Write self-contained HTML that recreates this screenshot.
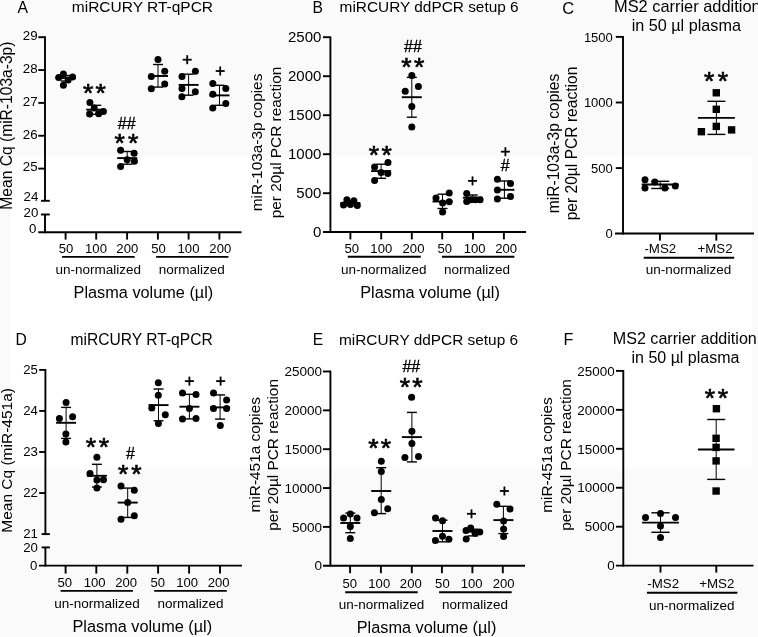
<!DOCTYPE html>
<html><head><meta charset="utf-8"><title>Figure</title>
<style>
html,body{margin:0;padding:0;background:#fff;overflow:hidden;}
svg{display:block;font-family:"Liberation Sans", sans-serif;fill:#000;filter:grayscale(1);}
.ast{font-weight:normal;stroke:#000;stroke-width:0.7px;}
.hs{stroke:#000;stroke-width:0.35px;}
</style></head>
<body>
<svg width="758" height="637" viewBox="0 0 758 637">
<rect x="0" y="0" width="758" height="637" fill="#fafafa"/>
<rect x="10.5" y="156.5" width="741.5" height="312.3" fill="#ffffff"/>
<text x="17.60" y="12.60" font-size="15.8" text-anchor="start" >A</text>
<text x="71.80" y="11.90" font-size="15.5" text-anchor="start" >miRCURY RT-qPCR</text>
<text transform="translate(11.90,125.60) rotate(-90)" font-size="15.6" text-anchor="middle">Mean Cq (miR-103a-3p)</text>
<line x1="45.00" y1="36.30" x2="45.00" y2="200.80" stroke="#000" stroke-width="1.9"/>
<line x1="45.00" y1="214.50" x2="45.00" y2="233.20" stroke="#000" stroke-width="1.9"/>
<line x1="38.30" y1="37.20" x2="45.00" y2="37.20" stroke="#000" stroke-width="1.9"/>
<text x="37.60" y="40.00" font-size="13.3" text-anchor="end" >29</text>
<line x1="38.30" y1="70.05" x2="45.00" y2="70.05" stroke="#000" stroke-width="1.9"/>
<text x="37.60" y="72.85" font-size="13.3" text-anchor="end" >28</text>
<line x1="38.30" y1="102.90" x2="45.00" y2="102.90" stroke="#000" stroke-width="1.9"/>
<text x="37.60" y="105.70" font-size="13.3" text-anchor="end" >27</text>
<line x1="38.30" y1="135.75" x2="45.00" y2="135.75" stroke="#000" stroke-width="1.9"/>
<text x="37.60" y="138.55" font-size="13.3" text-anchor="end" >26</text>
<line x1="38.30" y1="168.60" x2="45.00" y2="168.60" stroke="#000" stroke-width="1.9"/>
<text x="37.60" y="171.40" font-size="13.3" text-anchor="end" >25</text>
<line x1="41.00" y1="200.80" x2="49.80" y2="200.80" stroke="#000" stroke-width="1.9"/>
<text x="38.30" y="201.00" font-size="13.3" text-anchor="end" >24</text>
<line x1="41.00" y1="214.50" x2="49.80" y2="214.50" stroke="#000" stroke-width="1.9"/>
<text x="38.30" y="216.80" font-size="13.3" text-anchor="end" >20</text>
<line x1="38.30" y1="232.30" x2="241.50" y2="232.30" stroke="#000" stroke-width="1.9"/>
<text x="36.40" y="233.40" font-size="13.3" text-anchor="end" >0</text>
<line x1="65.60" y1="232.30" x2="65.60" y2="239.60" stroke="#000" stroke-width="1.9"/>
<text x="66.10" y="253.00" font-size="13.1" text-anchor="middle" >50</text>
<line x1="96.20" y1="232.30" x2="96.20" y2="239.60" stroke="#000" stroke-width="1.9"/>
<text x="96.00" y="253.00" font-size="13.1" text-anchor="middle" >100</text>
<line x1="127.10" y1="232.30" x2="127.10" y2="239.60" stroke="#000" stroke-width="1.9"/>
<text x="127.30" y="253.00" font-size="13.1" text-anchor="middle" >200</text>
<line x1="157.90" y1="232.30" x2="157.90" y2="239.60" stroke="#000" stroke-width="1.9"/>
<text x="158.60" y="253.00" font-size="13.1" text-anchor="middle" >50</text>
<line x1="188.60" y1="232.30" x2="188.60" y2="239.60" stroke="#000" stroke-width="1.9"/>
<text x="188.50" y="253.00" font-size="13.1" text-anchor="middle" >100</text>
<line x1="219.40" y1="232.30" x2="219.40" y2="239.60" stroke="#000" stroke-width="1.9"/>
<text x="220.30" y="253.00" font-size="13.1" text-anchor="middle" >200</text>
<line x1="62.10" y1="256.90" x2="134.70" y2="256.90" stroke="#000" stroke-width="1.9"/>
<line x1="156.10" y1="256.90" x2="228.40" y2="256.90" stroke="#000" stroke-width="1.9"/>
<text x="98.20" y="274.20" font-size="13.5" text-anchor="middle" >un-normalized</text>
<text x="191.80" y="274.20" font-size="13.5" text-anchor="middle" >normalized</text>
<text x="143.40" y="298.00" font-size="16.3" text-anchor="middle" >Plasma volume (µl)</text>
<line x1="65.60" y1="75.50" x2="65.60" y2="81.00" stroke="#000" stroke-width="1.0"/>
<line x1="60.60" y1="75.50" x2="70.60" y2="75.50" stroke="#000" stroke-width="1.4"/>
<line x1="60.60" y1="81.00" x2="70.60" y2="81.00" stroke="#000" stroke-width="1.4"/>
<line x1="55.60" y1="78.00" x2="75.60" y2="78.00" stroke="#000" stroke-width="1.9"/>
<circle cx="63.40" cy="73.90" r="3.5"/>
<circle cx="58.70" cy="77.50" r="3.5"/>
<circle cx="72.60" cy="77.00" r="3.5"/>
<circle cx="68.10" cy="80.10" r="3.5"/>
<circle cx="63.40" cy="85.30" r="3.5"/>
<line x1="96.20" y1="105.30" x2="96.20" y2="114.30" stroke="#000" stroke-width="1.0"/>
<line x1="91.20" y1="105.30" x2="101.20" y2="105.30" stroke="#000" stroke-width="1.4"/>
<line x1="91.20" y1="114.30" x2="101.20" y2="114.30" stroke="#000" stroke-width="1.4"/>
<line x1="86.20" y1="109.70" x2="106.20" y2="109.70" stroke="#000" stroke-width="1.9"/>
<circle cx="89.90" cy="102.40" r="3.5"/>
<circle cx="94.20" cy="107.90" r="3.5"/>
<circle cx="89.60" cy="114.00" r="3.5"/>
<circle cx="98.70" cy="113.70" r="3.5"/>
<circle cx="103.40" cy="111.50" r="3.5"/>
<text x="88.10" y="102.21" font-size="26.5" text-anchor="middle" class="ast">*</text>
<text x="100.60" y="102.21" font-size="26.5" text-anchor="middle" class="ast">*</text>
<line x1="127.20" y1="151.50" x2="127.20" y2="164.20" stroke="#000" stroke-width="1.0"/>
<line x1="122.20" y1="151.50" x2="132.20" y2="151.50" stroke="#000" stroke-width="1.4"/>
<line x1="122.20" y1="164.20" x2="132.20" y2="164.20" stroke="#000" stroke-width="1.4"/>
<line x1="117.20" y1="158.10" x2="137.20" y2="158.10" stroke="#000" stroke-width="1.9"/>
<circle cx="120.60" cy="150.20" r="3.5"/>
<circle cx="134.10" cy="153.20" r="3.5"/>
<circle cx="127.20" cy="159.80" r="3.5"/>
<circle cx="134.40" cy="161.20" r="3.5"/>
<circle cx="120.60" cy="166.60" r="3.5"/>
<text x="126.75" y="128.80" font-size="16" text-anchor="middle" class="hs">##</text>
<text x="119.70" y="151.72" font-size="26.5" text-anchor="middle" class="ast">*</text>
<text x="133.10" y="151.72" font-size="26.5" text-anchor="middle" class="ast">*</text>
<line x1="158.00" y1="64.50" x2="158.00" y2="87.10" stroke="#000" stroke-width="1.0"/>
<line x1="153.00" y1="64.50" x2="163.00" y2="64.50" stroke="#000" stroke-width="1.4"/>
<line x1="153.00" y1="87.10" x2="163.00" y2="87.10" stroke="#000" stroke-width="1.4"/>
<line x1="148.00" y1="76.00" x2="168.00" y2="76.00" stroke="#000" stroke-width="1.9"/>
<circle cx="158.00" cy="59.50" r="3.5"/>
<circle cx="164.70" cy="71.20" r="3.5"/>
<circle cx="151.30" cy="76.50" r="3.5"/>
<circle cx="164.70" cy="83.90" r="3.5"/>
<circle cx="151.30" cy="88.70" r="3.5"/>
<line x1="188.60" y1="74.20" x2="188.60" y2="95.20" stroke="#000" stroke-width="1.0"/>
<line x1="183.60" y1="74.20" x2="193.60" y2="74.20" stroke="#000" stroke-width="1.4"/>
<line x1="183.60" y1="95.20" x2="193.60" y2="95.20" stroke="#000" stroke-width="1.4"/>
<line x1="178.60" y1="84.90" x2="198.60" y2="84.90" stroke="#000" stroke-width="1.9"/>
<circle cx="195.40" cy="71.20" r="3.5"/>
<circle cx="182.00" cy="76.40" r="3.5"/>
<circle cx="182.00" cy="88.40" r="3.5"/>
<circle cx="195.30" cy="91.80" r="3.5"/>
<circle cx="181.90" cy="96.80" r="3.5"/>
<line x1="182.70" y1="59.70" x2="191.70" y2="59.70" stroke="#000" stroke-width="1.8"/>
<line x1="187.20" y1="55.20" x2="187.20" y2="64.20" stroke="#000" stroke-width="1.8"/>
<line x1="219.50" y1="85.30" x2="219.50" y2="105.30" stroke="#000" stroke-width="1.0"/>
<line x1="214.50" y1="85.30" x2="224.50" y2="85.30" stroke="#000" stroke-width="1.4"/>
<line x1="214.50" y1="105.30" x2="224.50" y2="105.30" stroke="#000" stroke-width="1.4"/>
<line x1="209.50" y1="95.40" x2="229.50" y2="95.40" stroke="#000" stroke-width="1.9"/>
<circle cx="212.80" cy="83.60" r="3.5"/>
<circle cx="225.80" cy="88.60" r="3.5"/>
<circle cx="212.80" cy="94.20" r="3.5"/>
<circle cx="225.80" cy="103.50" r="3.5"/>
<circle cx="212.80" cy="107.90" r="3.5"/>
<line x1="215.70" y1="71.00" x2="224.70" y2="71.00" stroke="#000" stroke-width="1.8"/>
<line x1="220.20" y1="66.50" x2="220.20" y2="75.50" stroke="#000" stroke-width="1.8"/>
<text x="312.60" y="12.80" font-size="15.6" text-anchor="start" >B</text>
<text x="339.60" y="12.00" font-size="15.4" text-anchor="start" >miRCURY ddPCR setup 6</text>
<text transform="translate(262.40,142.50) rotate(-90)" font-size="15.4" text-anchor="middle">miR-103a-3p copies</text>
<text transform="translate(281.00,142.50) rotate(-90)" font-size="15.4" text-anchor="middle">per 20µl PCR reaction</text>
<line x1="330.40" y1="36.50" x2="330.40" y2="233.00" stroke="#000" stroke-width="1.9"/>
<line x1="323.00" y1="37.20" x2="330.40" y2="37.20" stroke="#000" stroke-width="1.9"/>
<text x="321.40" y="42.10" font-size="15.0" text-anchor="end" >2500</text>
<line x1="323.00" y1="76.20" x2="330.40" y2="76.20" stroke="#000" stroke-width="1.9"/>
<text x="321.40" y="81.10" font-size="15.0" text-anchor="end" >2000</text>
<line x1="323.00" y1="115.20" x2="330.40" y2="115.20" stroke="#000" stroke-width="1.9"/>
<text x="321.40" y="120.10" font-size="15.0" text-anchor="end" >1500</text>
<line x1="323.00" y1="154.20" x2="330.40" y2="154.20" stroke="#000" stroke-width="1.9"/>
<text x="321.40" y="159.10" font-size="15.0" text-anchor="end" >1000</text>
<line x1="323.00" y1="193.20" x2="330.40" y2="193.20" stroke="#000" stroke-width="1.9"/>
<text x="321.40" y="198.10" font-size="15.0" text-anchor="end" >500</text>
<line x1="323.00" y1="232.00" x2="526.00" y2="232.00" stroke="#000" stroke-width="1.9"/>
<text x="321.40" y="236.90" font-size="15.0" text-anchor="end" >0</text>
<line x1="350.40" y1="232.00" x2="350.40" y2="239.40" stroke="#000" stroke-width="1.9"/>
<text x="351.80" y="253.20" font-size="13.1" text-anchor="middle" >50</text>
<line x1="381.20" y1="232.00" x2="381.20" y2="239.40" stroke="#000" stroke-width="1.9"/>
<text x="381.30" y="253.20" font-size="13.1" text-anchor="middle" >100</text>
<line x1="411.80" y1="232.00" x2="411.80" y2="239.40" stroke="#000" stroke-width="1.9"/>
<text x="413.50" y="253.20" font-size="13.1" text-anchor="middle" >200</text>
<line x1="442.20" y1="232.00" x2="442.20" y2="239.40" stroke="#000" stroke-width="1.9"/>
<text x="444.80" y="253.20" font-size="13.1" text-anchor="middle" >50</text>
<line x1="473.00" y1="232.00" x2="473.00" y2="239.40" stroke="#000" stroke-width="1.9"/>
<text x="474.70" y="253.20" font-size="13.1" text-anchor="middle" >100</text>
<line x1="503.90" y1="232.00" x2="503.90" y2="239.40" stroke="#000" stroke-width="1.9"/>
<text x="506.20" y="253.20" font-size="13.1" text-anchor="middle" >200</text>
<line x1="347.80" y1="256.70" x2="420.80" y2="256.70" stroke="#000" stroke-width="1.9"/>
<line x1="441.90" y1="256.70" x2="514.40" y2="256.70" stroke="#000" stroke-width="1.9"/>
<text x="383.80" y="274.10" font-size="13.5" text-anchor="middle" >un-normalized</text>
<text x="477.00" y="274.10" font-size="13.5" text-anchor="middle" >normalized</text>
<text x="430.10" y="297.80" font-size="16.3" text-anchor="middle" >Plasma volume (µl)</text>
<line x1="350.40" y1="200.50" x2="350.40" y2="205.50" stroke="#000" stroke-width="1.0"/>
<line x1="345.40" y1="200.50" x2="355.40" y2="200.50" stroke="#000" stroke-width="1.4"/>
<line x1="345.40" y1="205.50" x2="355.40" y2="205.50" stroke="#000" stroke-width="1.4"/>
<line x1="340.40" y1="203.00" x2="360.40" y2="203.00" stroke="#000" stroke-width="1.9"/>
<circle cx="346.90" cy="199.80" r="3.5"/>
<circle cx="353.90" cy="200.70" r="3.5"/>
<circle cx="343.50" cy="205.10" r="3.5"/>
<circle cx="350.40" cy="204.50" r="3.5"/>
<circle cx="357.30" cy="205.40" r="3.5"/>
<line x1="381.10" y1="164.20" x2="381.10" y2="178.30" stroke="#000" stroke-width="1.0"/>
<line x1="376.10" y1="164.20" x2="386.10" y2="164.20" stroke="#000" stroke-width="1.4"/>
<line x1="376.10" y1="178.30" x2="386.10" y2="178.30" stroke="#000" stroke-width="1.4"/>
<line x1="371.10" y1="171.10" x2="391.10" y2="171.10" stroke="#000" stroke-width="1.9"/>
<circle cx="388.00" cy="162.50" r="3.5"/>
<circle cx="374.60" cy="166.90" r="3.5"/>
<circle cx="381.10" cy="172.50" r="3.5"/>
<circle cx="387.80" cy="173.60" r="3.5"/>
<circle cx="374.60" cy="180.60" r="3.5"/>
<text x="374.00" y="163.61" font-size="26.5" text-anchor="middle" class="ast">*</text>
<text x="386.70" y="163.61" font-size="26.5" text-anchor="middle" class="ast">*</text>
<line x1="411.80" y1="77.40" x2="411.80" y2="117.20" stroke="#000" stroke-width="1.0"/>
<line x1="406.80" y1="77.40" x2="416.80" y2="77.40" stroke="#000" stroke-width="1.4"/>
<line x1="406.80" y1="117.20" x2="416.80" y2="117.20" stroke="#000" stroke-width="1.4"/>
<line x1="401.80" y1="97.20" x2="421.80" y2="97.20" stroke="#000" stroke-width="1.9"/>
<circle cx="411.80" cy="75.40" r="3.5"/>
<circle cx="418.40" cy="86.40" r="3.5"/>
<circle cx="405.20" cy="91.20" r="3.5"/>
<circle cx="411.80" cy="106.50" r="3.5"/>
<circle cx="411.80" cy="127.10" r="3.5"/>
<text x="413.00" y="51.60" font-size="16" text-anchor="middle" class="hs">##</text>
<text x="406.50" y="76.06" font-size="26.5" text-anchor="middle" class="ast">*</text>
<text x="419.20" y="76.06" font-size="26.5" text-anchor="middle" class="ast">*</text>
<line x1="442.50" y1="194.20" x2="442.50" y2="208.50" stroke="#000" stroke-width="1.0"/>
<line x1="437.50" y1="194.20" x2="447.50" y2="194.20" stroke="#000" stroke-width="1.4"/>
<line x1="437.50" y1="208.50" x2="447.50" y2="208.50" stroke="#000" stroke-width="1.4"/>
<line x1="432.50" y1="201.50" x2="452.50" y2="201.50" stroke="#000" stroke-width="1.9"/>
<circle cx="449.20" cy="193.00" r="3.5"/>
<circle cx="436.00" cy="197.90" r="3.5"/>
<circle cx="449.20" cy="201.80" r="3.5"/>
<circle cx="442.60" cy="203.10" r="3.5"/>
<circle cx="442.60" cy="211.90" r="3.5"/>
<line x1="472.80" y1="195.00" x2="472.80" y2="200.50" stroke="#000" stroke-width="1.0"/>
<line x1="467.80" y1="195.00" x2="477.80" y2="195.00" stroke="#000" stroke-width="1.4"/>
<line x1="467.80" y1="200.50" x2="477.80" y2="200.50" stroke="#000" stroke-width="1.4"/>
<line x1="462.80" y1="197.70" x2="482.80" y2="197.70" stroke="#000" stroke-width="1.9"/>
<circle cx="466.70" cy="193.60" r="3.5"/>
<circle cx="471.30" cy="199.70" r="3.5"/>
<circle cx="475.50" cy="199.70" r="3.5"/>
<circle cx="480.10" cy="199.70" r="3.5"/>
<circle cx="466.70" cy="201.40" r="3.5"/>
<line x1="468.00" y1="180.90" x2="477.00" y2="180.90" stroke="#000" stroke-width="1.8"/>
<line x1="472.50" y1="176.40" x2="472.50" y2="185.40" stroke="#000" stroke-width="1.8"/>
<line x1="504.40" y1="181.00" x2="504.40" y2="198.20" stroke="#000" stroke-width="1.0"/>
<line x1="499.40" y1="181.00" x2="509.40" y2="181.00" stroke="#000" stroke-width="1.4"/>
<line x1="499.40" y1="198.20" x2="509.40" y2="198.20" stroke="#000" stroke-width="1.4"/>
<line x1="494.40" y1="189.80" x2="514.40" y2="189.80" stroke="#000" stroke-width="1.9"/>
<circle cx="497.40" cy="179.30" r="3.5"/>
<circle cx="510.50" cy="183.40" r="3.5"/>
<circle cx="497.40" cy="190.00" r="3.5"/>
<circle cx="510.50" cy="196.60" r="3.5"/>
<circle cx="497.40" cy="199.00" r="3.5"/>
<line x1="500.90" y1="151.70" x2="509.90" y2="151.70" stroke="#000" stroke-width="1.8"/>
<line x1="505.40" y1="147.20" x2="505.40" y2="156.20" stroke="#000" stroke-width="1.8"/>
<text x="505.25" y="170.60" font-size="16" text-anchor="middle" class="hs">#</text>
<text x="562.30" y="14.40" font-size="16.5" text-anchor="start" >C</text>
<text x="614.00" y="11.80" font-size="16.4" text-anchor="start" >MS2 carrier addition</text>
<text x="631.70" y="30.80" font-size="16.2" text-anchor="start" >in 50 µl plasma</text>
<text transform="translate(558.50,143.50) rotate(-90)" font-size="15.6" text-anchor="middle">miR-103a-3p copies</text>
<text transform="translate(577.10,143.50) rotate(-90)" font-size="15.6" text-anchor="middle">per 20µl PCR reaction</text>
<line x1="623.00" y1="36.00" x2="623.00" y2="234.40" stroke="#000" stroke-width="1.9"/>
<line x1="615.80" y1="36.90" x2="623.00" y2="36.90" stroke="#000" stroke-width="1.9"/>
<text x="612.80" y="41.50" font-size="13.0" text-anchor="end" >1500</text>
<line x1="615.80" y1="102.50" x2="623.00" y2="102.50" stroke="#000" stroke-width="1.9"/>
<text x="612.80" y="107.10" font-size="13.0" text-anchor="end" >1000</text>
<line x1="615.80" y1="168.10" x2="623.00" y2="168.10" stroke="#000" stroke-width="1.9"/>
<text x="612.80" y="172.70" font-size="13.0" text-anchor="end" >500</text>
<line x1="615.00" y1="233.50" x2="754.00" y2="233.50" stroke="#000" stroke-width="1.9"/>
<text x="612.80" y="238.10" font-size="13.0" text-anchor="end" >0</text>
<line x1="659.90" y1="233.50" x2="659.90" y2="240.60" stroke="#000" stroke-width="1.9"/>
<line x1="716.30" y1="233.50" x2="716.30" y2="240.60" stroke="#000" stroke-width="1.9"/>
<text x="660.30" y="252.80" font-size="13.3" text-anchor="middle" >-MS2</text>
<text x="715.00" y="252.80" font-size="13.3" text-anchor="middle" >+MS2</text>
<line x1="643.70" y1="257.80" x2="734.20" y2="257.80" stroke="#000" stroke-width="1.9"/>
<text x="688.60" y="273.90" font-size="13.5" text-anchor="middle" >un-normalized</text>
<line x1="660.20" y1="181.30" x2="660.20" y2="188.50" stroke="#000" stroke-width="1.0"/>
<line x1="651.20" y1="181.30" x2="669.20" y2="181.30" stroke="#000" stroke-width="1.4"/>
<line x1="651.20" y1="188.50" x2="669.20" y2="188.50" stroke="#000" stroke-width="1.4"/>
<line x1="641.70" y1="184.50" x2="678.70" y2="184.50" stroke="#000" stroke-width="1.9"/>
<circle cx="645.00" cy="179.80" r="3.5"/>
<circle cx="654.80" cy="181.90" r="3.5"/>
<circle cx="645.00" cy="187.90" r="3.5"/>
<circle cx="664.90" cy="187.90" r="3.5"/>
<circle cx="675.30" cy="186.10" r="3.5"/>
<line x1="716.40" y1="101.30" x2="716.40" y2="134.40" stroke="#000" stroke-width="1.0"/>
<line x1="707.40" y1="101.30" x2="725.40" y2="101.30" stroke="#000" stroke-width="1.4"/>
<line x1="707.40" y1="134.40" x2="725.40" y2="134.40" stroke="#000" stroke-width="1.4"/>
<line x1="697.90" y1="117.90" x2="734.90" y2="117.90" stroke="#000" stroke-width="1.9"/>
<rect x="712.60" y="89.10" width="7.4" height="7.4"/>
<rect x="712.60" y="105.60" width="7.4" height="7.4"/>
<rect x="712.60" y="122.70" width="7.4" height="7.4"/>
<rect x="697.70" y="128.00" width="7.4" height="7.4"/>
<rect x="727.90" y="126.20" width="7.4" height="7.4"/>
<text x="709.20" y="90.06" font-size="26.5" text-anchor="middle" class="ast">*</text>
<text x="722.80" y="90.06" font-size="26.5" text-anchor="middle" class="ast">*</text>
<text x="15.60" y="345.00" font-size="15.6" text-anchor="start" >D</text>
<text x="70.60" y="345.30" font-size="15.6" text-anchor="start" >miRCURY RT-qPCR</text>
<text transform="translate(11.90,460.40) rotate(-90)" font-size="15.5" text-anchor="middle">Mean Cq (miR-451a)</text>
<line x1="45.40" y1="369.00" x2="45.40" y2="534.10" stroke="#000" stroke-width="1.9"/>
<line x1="45.40" y1="547.40" x2="45.40" y2="566.50" stroke="#000" stroke-width="1.9"/>
<line x1="39.20" y1="369.90" x2="45.40" y2="369.90" stroke="#000" stroke-width="1.9"/>
<text x="37.80" y="373.50" font-size="13.2" text-anchor="end" >25</text>
<line x1="39.20" y1="410.95" x2="45.40" y2="410.95" stroke="#000" stroke-width="1.9"/>
<text x="37.80" y="414.55" font-size="13.2" text-anchor="end" >24</text>
<line x1="39.20" y1="452.00" x2="45.40" y2="452.00" stroke="#000" stroke-width="1.9"/>
<text x="37.80" y="455.60" font-size="13.2" text-anchor="end" >23</text>
<line x1="39.20" y1="493.05" x2="45.40" y2="493.05" stroke="#000" stroke-width="1.9"/>
<text x="37.80" y="496.65" font-size="13.2" text-anchor="end" >22</text>
<line x1="41.60" y1="534.10" x2="49.90" y2="534.10" stroke="#000" stroke-width="1.9"/>
<text x="37.80" y="538.40" font-size="13.2" text-anchor="end" >21</text>
<line x1="41.60" y1="547.40" x2="49.90" y2="547.40" stroke="#000" stroke-width="1.9"/>
<text x="37.80" y="552.20" font-size="13.2" text-anchor="end" >20</text>
<line x1="38.90" y1="565.60" x2="242.00" y2="565.60" stroke="#000" stroke-width="1.9"/>
<text x="37.30" y="569.60" font-size="13.2" text-anchor="end" >0</text>
<line x1="65.60" y1="565.60" x2="65.60" y2="573.60" stroke="#000" stroke-width="1.9"/>
<text x="64.75" y="587.00" font-size="13.1" text-anchor="middle" >50</text>
<line x1="96.30" y1="565.60" x2="96.30" y2="573.60" stroke="#000" stroke-width="1.9"/>
<text x="94.60" y="587.00" font-size="13.1" text-anchor="middle" >100</text>
<line x1="127.30" y1="565.60" x2="127.30" y2="573.60" stroke="#000" stroke-width="1.9"/>
<text x="126.20" y="587.00" font-size="13.1" text-anchor="middle" >200</text>
<line x1="158.10" y1="565.60" x2="158.10" y2="573.60" stroke="#000" stroke-width="1.9"/>
<text x="157.70" y="587.00" font-size="13.1" text-anchor="middle" >50</text>
<line x1="189.10" y1="565.60" x2="189.10" y2="573.60" stroke="#000" stroke-width="1.9"/>
<text x="187.20" y="587.00" font-size="13.1" text-anchor="middle" >100</text>
<line x1="220.00" y1="565.60" x2="220.00" y2="573.60" stroke="#000" stroke-width="1.9"/>
<text x="218.60" y="587.00" font-size="13.1" text-anchor="middle" >200</text>
<line x1="60.60" y1="590.90" x2="132.90" y2="590.90" stroke="#000" stroke-width="1.9"/>
<line x1="154.20" y1="590.90" x2="226.80" y2="590.90" stroke="#000" stroke-width="1.9"/>
<text x="97.10" y="607.80" font-size="13.5" text-anchor="middle" >un-normalized</text>
<text x="190.40" y="607.80" font-size="13.5" text-anchor="middle" >normalized</text>
<text x="142.30" y="631.50" font-size="16.3" text-anchor="middle" >Plasma volume (µl)</text>
<line x1="66.10" y1="407.40" x2="66.10" y2="438.40" stroke="#000" stroke-width="1.0"/>
<line x1="61.10" y1="407.40" x2="71.10" y2="407.40" stroke="#000" stroke-width="1.4"/>
<line x1="61.10" y1="438.40" x2="71.10" y2="438.40" stroke="#000" stroke-width="1.4"/>
<line x1="56.10" y1="422.80" x2="76.10" y2="422.80" stroke="#000" stroke-width="1.9"/>
<circle cx="66.10" cy="402.60" r="3.5"/>
<circle cx="59.40" cy="418.60" r="3.5"/>
<circle cx="72.60" cy="416.70" r="3.5"/>
<circle cx="65.90" cy="434.00" r="3.5"/>
<circle cx="65.90" cy="442.00" r="3.5"/>
<line x1="96.90" y1="464.30" x2="96.90" y2="487.00" stroke="#000" stroke-width="1.0"/>
<line x1="91.90" y1="464.30" x2="101.90" y2="464.30" stroke="#000" stroke-width="1.4"/>
<line x1="91.90" y1="487.00" x2="101.90" y2="487.00" stroke="#000" stroke-width="1.4"/>
<line x1="86.90" y1="475.80" x2="106.90" y2="475.80" stroke="#000" stroke-width="1.9"/>
<circle cx="96.90" cy="457.30" r="3.5"/>
<circle cx="90.00" cy="473.60" r="3.5"/>
<circle cx="96.90" cy="480.00" r="3.5"/>
<circle cx="103.50" cy="479.70" r="3.5"/>
<circle cx="96.90" cy="488.00" r="3.5"/>
<text x="90.80" y="456.22" font-size="26.5" text-anchor="middle" class="ast">*</text>
<text x="104.00" y="456.22" font-size="26.5" text-anchor="middle" class="ast">*</text>
<line x1="127.70" y1="488.10" x2="127.70" y2="517.40" stroke="#000" stroke-width="1.0"/>
<line x1="122.70" y1="488.10" x2="132.70" y2="488.10" stroke="#000" stroke-width="1.4"/>
<line x1="122.70" y1="517.40" x2="132.70" y2="517.40" stroke="#000" stroke-width="1.4"/>
<line x1="117.70" y1="502.60" x2="137.70" y2="502.60" stroke="#000" stroke-width="1.9"/>
<circle cx="121.00" cy="486.00" r="3.5"/>
<circle cx="134.30" cy="490.30" r="3.5"/>
<circle cx="127.70" cy="502.60" r="3.5"/>
<circle cx="134.30" cy="515.80" r="3.5"/>
<circle cx="121.00" cy="519.30" r="3.5"/>
<text x="130.45" y="458.50" font-size="16" text-anchor="middle" class="hs">#</text>
<text x="123.20" y="483.01" font-size="26.5" text-anchor="middle" class="ast">*</text>
<text x="136.30" y="483.01" font-size="26.5" text-anchor="middle" class="ast">*</text>
<line x1="158.50" y1="389.00" x2="158.50" y2="420.80" stroke="#000" stroke-width="1.0"/>
<line x1="153.50" y1="389.00" x2="163.50" y2="389.00" stroke="#000" stroke-width="1.4"/>
<line x1="153.50" y1="420.80" x2="163.50" y2="420.80" stroke="#000" stroke-width="1.4"/>
<line x1="148.50" y1="405.10" x2="168.50" y2="405.10" stroke="#000" stroke-width="1.9"/>
<circle cx="158.30" cy="382.80" r="3.5"/>
<circle cx="158.30" cy="395.30" r="3.5"/>
<circle cx="151.80" cy="408.10" r="3.5"/>
<circle cx="165.30" cy="414.70" r="3.5"/>
<circle cx="158.40" cy="423.50" r="3.5"/>
<line x1="189.40" y1="394.30" x2="189.40" y2="418.90" stroke="#000" stroke-width="1.0"/>
<line x1="184.40" y1="394.30" x2="194.40" y2="394.30" stroke="#000" stroke-width="1.4"/>
<line x1="184.40" y1="418.90" x2="194.40" y2="418.90" stroke="#000" stroke-width="1.4"/>
<line x1="179.40" y1="406.70" x2="199.40" y2="406.70" stroke="#000" stroke-width="1.9"/>
<circle cx="182.50" cy="393.00" r="3.5"/>
<circle cx="196.00" cy="394.60" r="3.5"/>
<circle cx="189.40" cy="408.40" r="3.5"/>
<circle cx="182.50" cy="419.10" r="3.5"/>
<circle cx="196.00" cy="418.40" r="3.5"/>
<line x1="184.90" y1="381.10" x2="193.90" y2="381.10" stroke="#000" stroke-width="1.8"/>
<line x1="189.40" y1="376.60" x2="189.40" y2="385.60" stroke="#000" stroke-width="1.8"/>
<line x1="220.10" y1="394.90" x2="220.10" y2="419.10" stroke="#000" stroke-width="1.0"/>
<line x1="215.10" y1="394.90" x2="225.10" y2="394.90" stroke="#000" stroke-width="1.4"/>
<line x1="215.10" y1="419.10" x2="225.10" y2="419.10" stroke="#000" stroke-width="1.4"/>
<line x1="210.10" y1="407.40" x2="230.10" y2="407.40" stroke="#000" stroke-width="1.9"/>
<circle cx="213.50" cy="393.00" r="3.5"/>
<circle cx="226.60" cy="399.90" r="3.5"/>
<circle cx="213.50" cy="408.40" r="3.5"/>
<circle cx="226.60" cy="408.40" r="3.5"/>
<circle cx="220.30" cy="425.50" r="3.5"/>
<line x1="216.10" y1="381.10" x2="225.10" y2="381.10" stroke="#000" stroke-width="1.8"/>
<line x1="220.60" y1="376.60" x2="220.60" y2="385.60" stroke="#000" stroke-width="1.8"/>
<text x="312.80" y="345.10" font-size="15.6" text-anchor="start" >E</text>
<text x="339.00" y="345.00" font-size="15.4" text-anchor="start" >miRCURY ddPCR setup 6</text>
<text transform="translate(259.70,454.70) rotate(-90)" font-size="15.4" text-anchor="middle">miR-451a copies</text>
<text transform="translate(278.30,454.90) rotate(-90)" font-size="15.4" text-anchor="middle">per 20µl PCR reaction</text>
<line x1="330.40" y1="370.60" x2="330.40" y2="566.50" stroke="#000" stroke-width="1.9"/>
<line x1="323.00" y1="371.50" x2="330.40" y2="371.50" stroke="#000" stroke-width="1.9"/>
<text x="322.10" y="376.20" font-size="13.5" text-anchor="end" >25000</text>
<line x1="323.00" y1="410.35" x2="330.40" y2="410.35" stroke="#000" stroke-width="1.9"/>
<text x="322.10" y="415.05" font-size="13.5" text-anchor="end" >20000</text>
<line x1="323.00" y1="449.20" x2="330.40" y2="449.20" stroke="#000" stroke-width="1.9"/>
<text x="322.10" y="453.90" font-size="13.5" text-anchor="end" >15000</text>
<line x1="323.00" y1="488.05" x2="330.40" y2="488.05" stroke="#000" stroke-width="1.9"/>
<text x="322.10" y="492.75" font-size="13.5" text-anchor="end" >10000</text>
<line x1="323.00" y1="526.90" x2="330.40" y2="526.90" stroke="#000" stroke-width="1.9"/>
<text x="322.10" y="531.60" font-size="13.5" text-anchor="end" >5000</text>
<line x1="323.00" y1="565.70" x2="525.00" y2="565.70" stroke="#000" stroke-width="1.9"/>
<text x="322.10" y="570.40" font-size="13.5" text-anchor="end" >0</text>
<line x1="350.10" y1="565.70" x2="350.10" y2="573.20" stroke="#000" stroke-width="1.9"/>
<text x="349.75" y="588.00" font-size="13.1" text-anchor="middle" >50</text>
<line x1="380.90" y1="565.70" x2="380.90" y2="573.20" stroke="#000" stroke-width="1.9"/>
<text x="379.25" y="588.00" font-size="13.1" text-anchor="middle" >100</text>
<line x1="411.80" y1="565.70" x2="411.80" y2="573.20" stroke="#000" stroke-width="1.9"/>
<text x="410.80" y="588.00" font-size="13.1" text-anchor="middle" >200</text>
<line x1="441.90" y1="565.70" x2="441.90" y2="573.20" stroke="#000" stroke-width="1.9"/>
<text x="442.40" y="588.00" font-size="13.1" text-anchor="middle" >50</text>
<line x1="472.40" y1="565.70" x2="472.40" y2="573.20" stroke="#000" stroke-width="1.9"/>
<text x="471.70" y="588.00" font-size="13.1" text-anchor="middle" >100</text>
<line x1="502.80" y1="565.70" x2="502.80" y2="573.20" stroke="#000" stroke-width="1.9"/>
<text x="503.60" y="588.00" font-size="13.1" text-anchor="middle" >200</text>
<line x1="345.20" y1="592.20" x2="417.70" y2="592.20" stroke="#000" stroke-width="1.9"/>
<line x1="439.10" y1="592.20" x2="511.70" y2="592.20" stroke="#000" stroke-width="1.9"/>
<text x="381.40" y="609.40" font-size="13.5" text-anchor="middle" >un-normalized</text>
<text x="475.10" y="609.40" font-size="13.5" text-anchor="middle" >normalized</text>
<text x="426.60" y="633.10" font-size="16.3" text-anchor="middle" >Plasma volume (µl)</text>
<line x1="350.30" y1="513.10" x2="350.30" y2="532.70" stroke="#000" stroke-width="1.0"/>
<line x1="345.30" y1="513.10" x2="355.30" y2="513.10" stroke="#000" stroke-width="1.4"/>
<line x1="345.30" y1="532.70" x2="355.30" y2="532.70" stroke="#000" stroke-width="1.4"/>
<line x1="340.30" y1="523.00" x2="360.30" y2="523.00" stroke="#000" stroke-width="1.9"/>
<circle cx="350.30" cy="514.10" r="3.5"/>
<circle cx="343.60" cy="518.00" r="3.5"/>
<circle cx="357.00" cy="518.00" r="3.5"/>
<circle cx="350.30" cy="526.50" r="3.5"/>
<circle cx="350.30" cy="538.50" r="3.5"/>
<line x1="381.20" y1="467.70" x2="381.20" y2="513.60" stroke="#000" stroke-width="1.0"/>
<line x1="376.20" y1="467.70" x2="386.20" y2="467.70" stroke="#000" stroke-width="1.4"/>
<line x1="376.20" y1="513.60" x2="386.20" y2="513.60" stroke="#000" stroke-width="1.4"/>
<line x1="371.20" y1="491.00" x2="391.20" y2="491.00" stroke="#000" stroke-width="1.9"/>
<circle cx="381.30" cy="461.20" r="3.5"/>
<circle cx="381.30" cy="471.40" r="3.5"/>
<circle cx="381.30" cy="499.50" r="3.5"/>
<circle cx="387.70" cy="508.70" r="3.5"/>
<circle cx="374.40" cy="512.70" r="3.5"/>
<text x="373.40" y="457.26" font-size="26.5" text-anchor="middle" class="ast">*</text>
<text x="385.90" y="457.26" font-size="26.5" text-anchor="middle" class="ast">*</text>
<line x1="411.90" y1="412.40" x2="411.90" y2="461.90" stroke="#000" stroke-width="1.0"/>
<line x1="406.90" y1="412.40" x2="416.90" y2="412.40" stroke="#000" stroke-width="1.4"/>
<line x1="406.90" y1="461.90" x2="416.90" y2="461.90" stroke="#000" stroke-width="1.4"/>
<line x1="401.90" y1="437.10" x2="421.90" y2="437.10" stroke="#000" stroke-width="1.9"/>
<circle cx="411.60" cy="397.20" r="3.5"/>
<circle cx="411.90" cy="431.30" r="3.5"/>
<circle cx="411.90" cy="443.60" r="3.5"/>
<circle cx="404.90" cy="457.50" r="3.5"/>
<circle cx="418.50" cy="456.40" r="3.5"/>
<text x="411.35" y="372.20" font-size="16" text-anchor="middle" class="hs">##</text>
<text x="404.80" y="396.22" font-size="26.5" text-anchor="middle" class="ast">*</text>
<text x="417.50" y="396.22" font-size="26.5" text-anchor="middle" class="ast">*</text>
<line x1="442.50" y1="520.20" x2="442.50" y2="541.80" stroke="#000" stroke-width="1.0"/>
<line x1="437.50" y1="520.20" x2="447.50" y2="520.20" stroke="#000" stroke-width="1.4"/>
<line x1="437.50" y1="541.80" x2="447.50" y2="541.80" stroke="#000" stroke-width="1.4"/>
<line x1="432.50" y1="531.00" x2="452.50" y2="531.00" stroke="#000" stroke-width="1.9"/>
<circle cx="435.50" cy="518.00" r="3.5"/>
<circle cx="442.50" cy="520.80" r="3.5"/>
<circle cx="442.50" cy="536.20" r="3.5"/>
<circle cx="448.90" cy="539.20" r="3.5"/>
<circle cx="435.40" cy="540.50" r="3.5"/>
<line x1="473.00" y1="529.20" x2="473.00" y2="535.90" stroke="#000" stroke-width="1.0"/>
<line x1="468.00" y1="529.20" x2="478.00" y2="529.20" stroke="#000" stroke-width="1.4"/>
<line x1="468.00" y1="535.90" x2="478.00" y2="535.90" stroke="#000" stroke-width="1.4"/>
<line x1="463.00" y1="531.70" x2="483.00" y2="531.70" stroke="#000" stroke-width="1.9"/>
<circle cx="466.00" cy="530.50" r="3.5"/>
<circle cx="470.70" cy="527.90" r="3.5"/>
<circle cx="475.10" cy="533.30" r="3.5"/>
<circle cx="479.80" cy="532.00" r="3.5"/>
<circle cx="466.20" cy="538.90" r="3.5"/>
<line x1="467.00" y1="513.80" x2="476.00" y2="513.80" stroke="#000" stroke-width="1.8"/>
<line x1="471.50" y1="509.30" x2="471.50" y2="518.30" stroke="#000" stroke-width="1.8"/>
<line x1="503.40" y1="506.30" x2="503.40" y2="533.60" stroke="#000" stroke-width="1.0"/>
<line x1="498.40" y1="506.30" x2="508.40" y2="506.30" stroke="#000" stroke-width="1.4"/>
<line x1="498.40" y1="533.60" x2="508.40" y2="533.60" stroke="#000" stroke-width="1.4"/>
<line x1="493.40" y1="520.10" x2="513.40" y2="520.10" stroke="#000" stroke-width="1.9"/>
<circle cx="496.80" cy="504.20" r="3.5"/>
<circle cx="510.00" cy="509.10" r="3.5"/>
<circle cx="503.60" cy="520.90" r="3.5"/>
<circle cx="503.60" cy="528.90" r="3.5"/>
<circle cx="503.60" cy="536.50" r="3.5"/>
<line x1="499.90" y1="491.00" x2="508.90" y2="491.00" stroke="#000" stroke-width="1.8"/>
<line x1="504.40" y1="486.50" x2="504.40" y2="495.50" stroke="#000" stroke-width="1.8"/>
<text x="563.60" y="344.80" font-size="16.2" text-anchor="start" >F</text>
<text x="612.80" y="344.40" font-size="16.1" text-anchor="start" >MS2 carrier addition</text>
<text x="631.50" y="363.10" font-size="16.0" text-anchor="start" >in 50 µl plasma</text>
<text transform="translate(552.40,455.00) rotate(-90)" font-size="15.4" text-anchor="middle">miR-451a copies</text>
<text transform="translate(571.00,455.00) rotate(-90)" font-size="15.4" text-anchor="middle">per 20µl PCR reaction</text>
<line x1="623.30" y1="370.00" x2="623.30" y2="566.50" stroke="#000" stroke-width="1.9"/>
<line x1="616.00" y1="370.90" x2="623.30" y2="370.90" stroke="#000" stroke-width="1.9"/>
<text x="614.60" y="375.60" font-size="13.4" text-anchor="end" >25000</text>
<line x1="616.00" y1="409.85" x2="623.30" y2="409.85" stroke="#000" stroke-width="1.9"/>
<text x="614.60" y="414.55" font-size="13.4" text-anchor="end" >20000</text>
<line x1="616.00" y1="448.80" x2="623.30" y2="448.80" stroke="#000" stroke-width="1.9"/>
<text x="614.60" y="453.50" font-size="13.4" text-anchor="end" >15000</text>
<line x1="616.00" y1="487.75" x2="623.30" y2="487.75" stroke="#000" stroke-width="1.9"/>
<text x="614.60" y="492.45" font-size="13.4" text-anchor="end" >10000</text>
<line x1="616.00" y1="526.70" x2="623.30" y2="526.70" stroke="#000" stroke-width="1.9"/>
<text x="614.60" y="531.40" font-size="13.4" text-anchor="end" >5000</text>
<line x1="615.90" y1="565.60" x2="753.50" y2="565.60" stroke="#000" stroke-width="1.9"/>
<text x="614.60" y="570.30" font-size="13.4" text-anchor="end" >0</text>
<line x1="660.50" y1="565.60" x2="660.50" y2="572.60" stroke="#000" stroke-width="1.9"/>
<line x1="716.30" y1="565.60" x2="716.30" y2="572.60" stroke="#000" stroke-width="1.9"/>
<text x="663.20" y="587.90" font-size="13.3" text-anchor="middle" >-MS2</text>
<text x="716.80" y="587.90" font-size="13.3" text-anchor="middle" >+MS2</text>
<line x1="646.90" y1="592.80" x2="737.40" y2="592.80" stroke="#000" stroke-width="1.9"/>
<text x="691.80" y="610.20" font-size="13.5" text-anchor="middle" >un-normalized</text>
<line x1="660.50" y1="512.80" x2="660.50" y2="532.30" stroke="#000" stroke-width="1.0"/>
<line x1="651.40" y1="512.80" x2="669.60" y2="512.80" stroke="#000" stroke-width="1.4"/>
<line x1="651.40" y1="532.30" x2="669.60" y2="532.30" stroke="#000" stroke-width="1.4"/>
<line x1="642.10" y1="522.60" x2="678.90" y2="522.60" stroke="#000" stroke-width="1.9"/>
<circle cx="660.50" cy="513.50" r="3.5"/>
<circle cx="645.50" cy="517.60" r="3.5"/>
<circle cx="675.50" cy="517.60" r="3.5"/>
<circle cx="660.50" cy="526.00" r="3.5"/>
<circle cx="660.50" cy="537.60" r="3.5"/>
<line x1="716.20" y1="419.50" x2="716.20" y2="479.40" stroke="#000" stroke-width="1.0"/>
<line x1="707.20" y1="419.50" x2="725.20" y2="419.50" stroke="#000" stroke-width="1.4"/>
<line x1="707.20" y1="479.40" x2="725.20" y2="479.40" stroke="#000" stroke-width="1.4"/>
<line x1="697.90" y1="449.50" x2="734.50" y2="449.50" stroke="#000" stroke-width="1.9"/>
<rect x="712.70" y="405.00" width="7.4" height="7.4"/>
<rect x="712.40" y="434.60" width="7.4" height="7.4"/>
<rect x="712.40" y="443.70" width="7.4" height="7.4"/>
<rect x="712.40" y="457.20" width="7.4" height="7.4"/>
<rect x="712.40" y="487.30" width="7.4" height="7.4"/>
<text x="709.80" y="407.26" font-size="26.5" text-anchor="middle" class="ast">*</text>
<text x="722.80" y="407.26" font-size="26.5" text-anchor="middle" class="ast">*</text>
</svg>
</body></html>
